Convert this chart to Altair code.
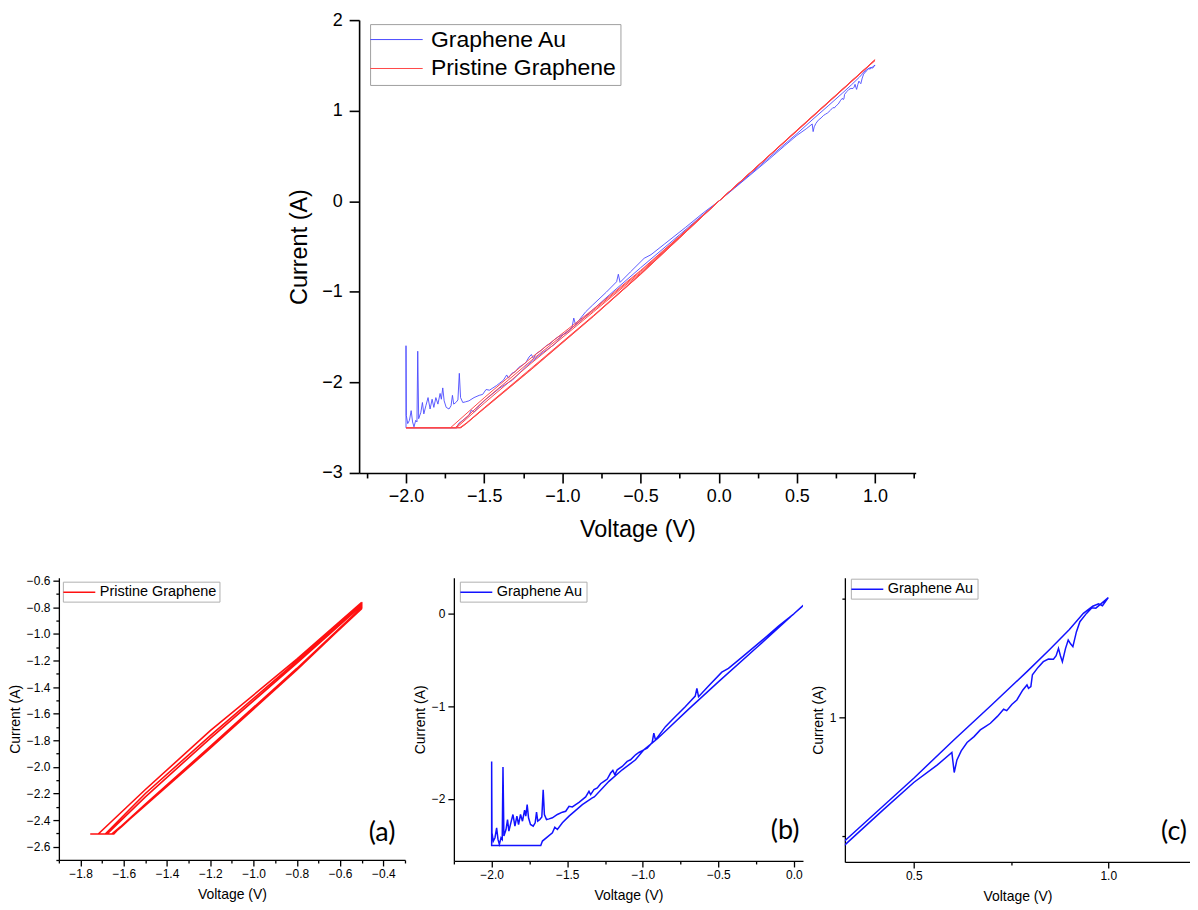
import altair as alt
import pandas as pd

FONT = "Liberation Sans"
SERIES = ["Graphene Au", "Pristine Graphene"]
BLUE_MAIN, RED_MAIN = "#4a4aff", "#ff4848"
BLUE_SUB, RED_SUB = "#1212ff", "#ff1010"

# ---------------- Graphene Au sweep (measurement order) ----------------
au_up_pos_v = [0.0, 0.1, 0.2, 0.323, 0.5, 0.603, 0.7, 0.791, 0.85, 0.9, 0.936, 0.96, 0.975, 0.985, 1.0]
au_up_pos_i = [0.0, 0.148, 0.297, 0.482, 0.745, 0.906, 1.053, 1.193, 1.287, 1.37, 1.438, 1.468, 1.478, 1.47, 1.504]

au_dn_pos_v = [0.968, 0.958, 0.944, 0.927, 0.918, 0.909, 0.903, 0.897, 0.89, 0.882, 0.877, 0.872, 0.866,
               0.859, 0.846, 0.833, 0.82, 0.805, 0.801, 0.795, 0.791, 0.78, 0.765, 0.752, 0.739, 0.731,
               0.715, 0.697, 0.684, 0.671, 0.655, 0.637, 0.622, 0.611, 0.604, 0.598, 0.56, 0.5, 0.42,
               0.323, 0.2, 0.1, 0.0]
au_dn_pos_i = [1.46, 1.462, 1.438, 1.403, 1.36, 1.298, 1.31, 1.326, 1.29, 1.235, 1.26, 1.291, 1.26,
               1.245, 1.246, 1.235, 1.212, 1.18, 1.13, 1.123, 1.137, 1.115, 1.074, 1.055, 1.029, 1.035,
               1.005, 0.976, 0.962, 0.948, 0.92, 0.895, 0.86, 0.822, 0.769, 0.853, 0.80, 0.727, 0.61,
               0.465, 0.287, 0.143, 0.0]

au_dn_neg_v = [-0.25, -0.5, -0.7, -0.83, -0.9, -0.993, -1.048, -1.136, -1.224, -1.321, -1.334, -1.40,
               -1.488, -1.532, -1.565, -1.582, -1.598, -1.664, -1.675, -2.0]
au_dn_neg_i = [-0.37, -0.735, -1.035, -1.237, -1.345, -1.47, -1.577, -1.685, -1.81, -1.978, -1.989, -2.061,
               -2.186, -2.258, -2.33, -2.305, -2.366, -2.455, -2.502, -2.502]

au_up_neg_v = [-2.0, -1.998, -1.989, -1.978, -1.967, -1.958, -1.949, -1.938, -1.930, -1.925,
               -1.919, -1.905, -1.895, -1.886, -1.873, -1.859, -1.846, -1.833, -1.822, -1.809,
               -1.796, -1.782, -1.774, -1.765, -1.756, -1.743, -1.725, -1.712, -1.703, -1.695,
               -1.681, -1.668, -1.659, -1.651, -1.637, -1.62, -1.598, -1.565, -1.532, -1.51,
               -1.488, -1.466, -1.444, -1.422, -1.40, -1.378, -1.356, -1.345, -1.323, -1.301,
               -1.279, -1.257, -1.235, -1.213, -1.198, -1.185, -1.169, -1.136, -1.103, -1.081,
               -1.048, -1.026, -0.993, -0.971, -0.938, -0.927, -0.916, -0.85, -0.807, -0.719,
               -0.653, -0.642, -0.631, -0.565, -0.477, -0.433, -0.345, -0.213, -0.1, 0.0]
au_up_neg_i = [-1.595, -2.366, -2.455, -2.419, -2.312, -2.437, -2.491, -2.419, -2.437, -1.656,
               -2.401, -2.33, -2.222, -2.348, -2.258, -2.168, -2.294, -2.186, -2.276, -2.168,
               -2.24, -2.122, -2.186, -2.061, -2.204, -2.276, -2.294, -2.258, -2.143, -2.24,
               -2.222, -2.194, -1.90, -2.168, -2.222, -2.215, -2.204, -2.168, -2.143, -2.133,
               -2.079, -2.086, -2.061, -2.036, -2.007, -1.978, -1.918, -1.953, -1.90, -1.882,
               -1.835, -1.81, -1.785, -1.72, -1.692, -1.738, -1.685, -1.649, -1.595, -1.577,
               -1.523, -1.498, -1.47, -1.452, -1.391, -1.29, -1.362, -1.219, -1.147, -1.004,
               -0.889, -0.806, -0.896, -0.781, -0.63, -0.59, -0.47, -0.29, -0.13, 0.0]

# ---------------- Pristine Graphene, full sweeps (3 cycles) ----------------
pg_c1_v = [0.0, 0.5, 1.0, 0.5, 0.0, -0.25, -0.5, -0.8, -1.2, -1.5, -1.715, -2.0, -1.648, -1.62, -1.5, -1.2, -0.8, -0.5, -0.25, 0.0]
pg_c1_i = [0.0, 0.78, 1.555, 0.775, 0.0, -0.385, -0.765, -1.19, -1.73, -2.17, -2.5, -2.5, -2.5, -2.46, -2.29, -1.86, -1.27, -0.807, -0.405, 0.0]
pg_c2_v = [0.0, 0.5, 1.0, 0.5, 0.0, -0.25, -0.5, -0.8, -1.2, -1.5, -1.685, -2.0, -1.656, -1.615, -1.5, -1.2, -0.8, -0.5, -0.25, 0.0]
pg_c2_i = [0.0, 0.782, 1.56, 0.778, 0.0, -0.39, -0.775, -1.205, -1.76, -2.2, -2.5, -2.5, -2.5, -2.45, -2.28, -1.845, -1.26, -0.80, -0.40, 0.0]
pg_c3_v = [0.0, 0.5, 1.0, 0.5, 0.0, -0.25, -0.5, -0.8, -1.2, -1.5, -1.677, -2.0, -1.65, -1.61, -1.5, -1.2, -0.8, -0.5, -0.25, 0.0]
pg_c3_i = [0.0, 0.785, 1.562, 0.78, 0.0, -0.395, -0.79, -1.22, -1.79, -2.23, -2.5, -2.5, -2.5, -2.45, -2.285, -1.855, -1.265, -0.81, -0.405, 0.0]

# ---------------- Pristine Graphene, panel (a) loops ----------------
pa_l1_v = [-0.5, -0.8, -1.2, -1.5, -1.718, -1.755, -1.646, -1.62, -1.5, -1.2, -0.8, -0.5]
pa_l1_i = [-0.762, -1.19, -1.728, -2.17, -2.505, -2.505, -2.505, -2.46, -2.29, -1.86, -1.27, -0.807]
pa_l2_v = [-0.5, -0.8, -1.2, -1.5, -1.685, -1.656, -1.615, -1.5, -1.2, -0.8, -0.5]
pa_l2_i = [-0.772, -1.205, -1.765, -2.2, -2.505, -2.505, -2.45, -2.28, -1.845, -1.26, -0.80]
pa_l3_v = [-0.5, -0.8, -1.2, -1.5, -1.677, -1.65, -1.61, -1.5, -1.2, -0.8, -0.5]
pa_l3_i = [-0.785, -1.22, -1.785, -2.225, -2.505, -2.505, -2.45, -2.285, -1.855, -1.265, -0.81]

# ---------------- tick values ----------------
main_x_ticks = [-2.25, -2.0, -1.75, -1.5, -1.25, -1.0, -0.75, -0.5, -0.25, 0.0, 0.25, 0.5, 0.75, 1.0, 1.25]
main_y_ticks = [-3, -2, -1, 0, 1, 2]
a_x_ticks = [-1.9, -1.8, -1.7, -1.6, -1.5, -1.4, -1.3, -1.2, -1.1, -1.0, -0.9, -0.8, -0.7, -0.6, -0.5, -0.4, -0.3]
a_y_ticks = [-2.7, -2.6, -2.5, -2.4, -2.3, -2.2, -2.1, -2.0, -1.9, -1.8, -1.7, -1.6, -1.5, -1.4, -1.3,
             -1.2, -1.1, -1.0, -0.9, -0.8, -0.7, -0.6]
b_x_ticks = [-2.25, -2.0, -1.75, -1.5, -1.25, -1.0, -0.75, -0.5, -0.25, 0.0]
b_y_ticks = [-2, -1, 0]
c_x_ticks = [0.5, 0.75, 1.0]
c_y_ticks = [0.5, 1.0, 1.5]
panel_labels = ["(a)", "(b)", "(c)"]

HALF = "abs(datum.value*2 - round(datum.value*2)) < 0.001"
FIFTH = "abs(datum.value*5 - round(datum.value*5)) < 0.001"
ONE = "abs(datum.value - round(datum.value)) < 0.001"
ONLY_ONE = "datum.value > 0.9 && datum.value < 1.1"


def frame(v, i, name):
    return pd.DataFrame({"V": v, "I": i, "series": name, "idx": list(range(len(v)))})


au_df = frame(au_up_pos_v + au_dn_pos_v + au_dn_neg_v + au_up_neg_v,
              au_up_pos_i + au_dn_pos_i + au_dn_neg_i + au_up_neg_i, "Graphene Au")
pg_df = frame(pg_c1_v + pg_c2_v + pg_c3_v, pg_c1_i + pg_c2_i + pg_c3_i, "Pristine Graphene")
pa_df = frame(pa_l1_v + pa_l2_v + pa_l3_v, pa_l1_i + pa_l2_i + pa_l3_i, "Pristine Graphene")


def make_axis(values, fmt, major, tmaj, tmin, lsize, tsize, lpad, tpad, lw, label_test=None, expr=None):
    lt = label_test or major
    return alt.Axis(
        values=values, format=fmt, labelExpr=expr or f"({lt}) ? datum.label : ''",
        tickSize={"condition": {"test": major, "value": tmaj}, "value": tmin},
        grid=False, domainColor="black", domainWidth=lw, tickColor="black", tickWidth=lw,
        labelColor="black", titleColor="black", labelFont=FONT, titleFont=FONT,
        labelFontSize=lsize, titleFontSize=tsize, titleFontWeight="normal",
        labelPadding=lpad, titlePadding=tpad, labelOverlap=False, labelFlush=False, labelBound=False)


def make_legend(x, y, big):
    if big:
        return alt.Legend(title=None, orient="none", legendX=x, legendY=y,
                          symbolType="M-2.5,0H2.5", symbolSize=441, symbolStrokeWidth=1,
                          symbolOffset=11, labelOffset=23, labelFontSize=23, labelFont=FONT,
                          labelColor="black", strokeColor="#a0a0a0", fillColor="white",
                          padding=4, rowPadding=5, labelLimit=500)
    return alt.Legend(title=None, orient="none", legendX=x, legendY=y,
                      symbolType="M-2.5,0H2.5", symbolSize=164, symbolStrokeWidth=1.5,
                      symbolOffset=6, labelOffset=13, labelFontSize=14.5, labelFont=FONT,
                      labelColor="black", strokeColor="#b0b0b0", fillColor="white",
                      padding=3, rowPadding=2, labelLimit=500)


def panel_text(txt, w, h, dx, dy):
    return alt.Chart(pd.DataFrame({"t": [txt]})).mark_text(
        font="Lato", fontSize=27, color="black", align="center", baseline="middle"
    ).encode(text="t:N", x=alt.value(w - dx), y=alt.value(h - dy))


# ---------------- main plot ----------------
MW, MH = 558, 454
mx = alt.X("V:Q", title="Voltage (V)", scale=alt.Scale(domain=[-2.3, 1.26], nice=False, zero=False),
           axis=make_axis(main_x_ticks, ".1f", HALF, 10, 5, 18, 23.5, 5, 12, 1.6))
my = alt.Y("I:Q", title="Current (A)", scale=alt.Scale(domain=[-3, 2], nice=False, zero=False),
           axis=make_axis(main_y_ticks, "d", ONE, 10, 5, 18, 23.5, 7, 10, 1.6))
mcolor = alt.Color("series:N", scale=alt.Scale(domain=SERIES, range=[BLUE_MAIN, RED_MAIN]),
                   legend=make_legend(11, 4, True))
main = alt.layer(
    alt.Chart(au_df).mark_line(strokeWidth=0.9).encode(x=mx, y=my, color=mcolor, order="idx:Q"),
    alt.Chart(pg_df).mark_line(strokeWidth=1.0).encode(x=mx, y=my, color=mcolor, order="idx:Q"),
).properties(width=MW, height=MH)

spacer = alt.Chart(pd.DataFrame({"s": [0]})).mark_point(opacity=0).encode(
    x=alt.value(0), y=alt.value(0)).properties(width=229, height=10)

top_row = alt.hconcat(spacer, main, spacing=0).resolve_scale(color="independent")

# ---------------- panel (a) ----------------
AW, AH = 347, 283
a_chart = alt.layer(
    alt.Chart(pa_df).mark_line(strokeWidth=1.6, clip=True).encode(
        x=alt.X("V:Q", title="Voltage (V)", scale=alt.Scale(domain=[-1.9, -0.3], nice=False, zero=False),
                axis=make_axis(a_x_ticks, ".1f", FIFTH, 6, 3, 12, 14, 3, 8, 1.3)),
        y=alt.Y("I:Q", title="Current (A)", scale=alt.Scale(domain=[-2.7, -0.5775], nice=False, zero=False),
                axis=make_axis(a_y_ticks, ".1f", FIFTH, 6, 3, 12, 14, 3, 4, 1.3)),
        color=alt.Color("series:N", scale=alt.Scale(domain=["Pristine Graphene"], range=[RED_SUB]),
                        legend=make_legend(4, 4, False)),
        order="idx:Q"),
    panel_text(panel_labels[0], AW, AH, 23, 27),
).properties(width=AW, height=AH)

# ---------------- panel (b) ----------------
BW, BH = 350, 284
b_chart = alt.layer(
    alt.Chart(au_df).mark_line(strokeWidth=1.5, clip=True).encode(
        x=alt.X("V:Q", title="Voltage (V)", scale=alt.Scale(domain=[-2.25, 0.06], nice=False, zero=False),
                axis=make_axis(b_x_ticks, ".1f", HALF, 6, 3, 12, 14, 3, 8, 1.3)),
        y=alt.Y("I:Q", title="Current (A)", scale=alt.Scale(domain=[-2.67, 0.39], nice=False, zero=False),
                axis=make_axis(b_y_ticks, "d", ONE, 6, 3, 12, 14, 3, 4, 1.3)),
        color=alt.Color("series:N", scale=alt.Scale(domain=["Graphene Au"], range=[BLUE_SUB]),
                        legend=make_legend(6, 4, False)),
        order="idx:Q"),
    panel_text(panel_labels[1], BW, BH, 18, 30),
).properties(width=BW, height=BH)

# ---------------- panel (c) ----------------
CW, CH = 346, 285
c_chart = alt.layer(
    alt.Chart(au_df).mark_line(strokeWidth=1.5, clip=True).encode(
        x=alt.X("V:Q", title="Voltage (V)", scale=alt.Scale(domain=[0.323, 1.21], nice=False, zero=False),
                axis=make_axis(c_x_ticks, ".1f", HALF, 6, 3, 12, 14, 3, 8, 1.3)),
        y=alt.Y("I:Q", title="Current (A)", scale=alt.Scale(domain=[0.393, 1.588], nice=False, zero=False),
                axis=make_axis(c_y_ticks, ".1f", ONLY_ONE, 6, 3, 12, 14, 3, 4, 1.3,
                               expr=f"({ONLY_ONE}) ? '1' : ''")),
        color=alt.Color("series:N", scale=alt.Scale(domain=["Graphene Au"], range=[BLUE_SUB]),
                        legend=make_legend(6, 1, False)),
        order="idx:Q"),
    panel_text(panel_labels[2], CW, CH, 16, 30),
).properties(width=CW, height=CH)

ab = alt.hconcat(a_chart, b_chart, spacing=7).resolve_scale(color="independent")
bottom_row = alt.hconcat(ab, c_chart, spacing=8).resolve_scale(color="independent")

chart = alt.vconcat(top_row, bottom_row, spacing=32).resolve_scale(color="independent").properties(
    padding={"left": 0, "top": 2, "right": 0, "bottom": 0}, background="white"
).configure_view(stroke="transparent", strokeWidth=0)

chart.save("out.html", embed_options={"renderer": "svg", "actions": False})
